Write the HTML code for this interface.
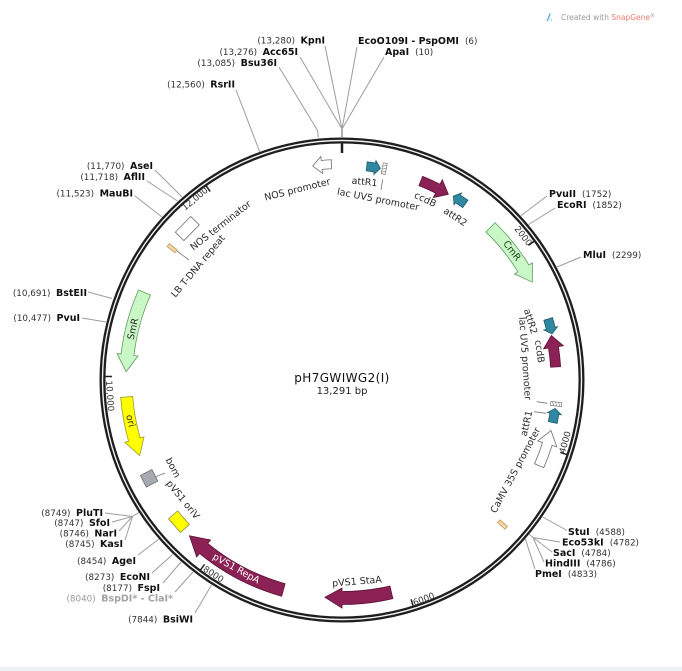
<!DOCTYPE html>
<html><head><meta charset="utf-8"><style>
html,body{margin:0;padding:0;background:#fff;width:682px;height:671px;overflow:hidden}
svg{display:block}
text{font-family:"DejaVu Sans","Liberation Sans",sans-serif}
.n{font-size:8.8px;fill:#333}
.b{font-size:9.5px;font-weight:bold;fill:#111}
.g{font-size:9.5px;font-weight:bold;fill:#a3a3a3}
.gn{font-size:8.8px;fill:#999}
.f{font-size:9.5px;fill:#2a2a2a}
.t{font-size:8.8px;fill:#333}
.sl{stroke:#9c9c9c;stroke-width:1;fill:none}
</style></head><body>
<svg width="682" height="671" viewBox="0 0 682 671" xmlns="http://www.w3.org/2000/svg">
<rect width="682" height="671" fill="#fff"/>
<rect x="0" y="667" width="682" height="4" fill="#eef1f1"/>

<!-- header -->
<path d="M546.5,21 L549.5,13.5 L551,13.5 L548,21 Z" fill="#5fb2e6"/>
<path d="M550,17 L552.5,21 L551,21 Z" fill="#9ed2f2"/>
<text x="561" y="20" font-size="7.5" fill="#9a9a9a">Created with <tspan fill="#ec7b70">SnapGene</tspan><tspan font-size="5" dy="-2.5">®</tspan></text>

<!-- site lines -->
<g class="sl">
<path d="M342,137 L342,129" stroke-width="1.6"/>
<path d="M342,129 L325,46"/>
<path d="M342,129 L300,57"/>
<path d="M342,129 L357,47"/>
<path d="M342,129 L384,57"/>
<path d="M318.3,137.5 L317.6,130.5 L279,67"/>
<path d="M259.8,152 L236,90"/>
<path d="M182,197 L155,170"/>
<path d="M177.5,201 L147,181"/>
<path d="M162,217 L135,196"/>
<path d="M112,298.5 L88,292"/>
<path d="M106,322 L82,318"/>
<path d="M138.9,512.4 L132.5,516.5 L105,513"/>
<path d="M132.5,516.5 L112,522"/>
<path d="M132.5,516.5 L119,531"/>
<path d="M132.5,516.5 L125,540"/>
<path d="M158.6,539.4 L138,555"/>
<path d="M172.7,554.4 L152,573"/>
<path d="M181,562 L163,583"/>
<path d="M193,572 L175,592"/>
<path d="M211.5,585 L195,613"/>
<path d="M521,215.6 L547,196"/>
<path d="M528.7,224.5 L555,208"/>
<path d="M557,267 L581,257"/>
<path d="M542.7,517 L567,530.5"/>
<path d="M529.1,534.2 L533,537.5 L560,542"/>
<path d="M533,537.5 L552,552"/>
<path d="M533,537.5 L544,562"/>
<path d="M525.3,538.8 L535,569"/>
</g>

<!-- ring -->
<circle cx="342" cy="380" r="239.5" fill="none" stroke="#1e1e1e" stroke-width="6"/>
<circle cx="342" cy="380" r="239.5" fill="none" stroke="#f0f0f0" stroke-width="1.4"/>

<!-- ticks -->
<g stroke="#222">
<line x1="342" y1="142" x2="342" y2="153" stroke-width="2.5"/>
<line x1="342" y1="143" x2="342" y2="150" stroke-width="1.5" transform="rotate(54.17 342 380)"/>
<line x1="342" y1="143" x2="342" y2="150" stroke-width="1.5" transform="rotate(108.34 342 380)"/>
<line x1="342" y1="143" x2="342" y2="150" stroke-width="1.5" transform="rotate(162.52 342 380)"/>
<line x1="342" y1="143" x2="342" y2="150" stroke-width="1.5" transform="rotate(216.69 342 380)"/>
<line x1="342" y1="143" x2="342" y2="150" stroke-width="1.5" transform="rotate(270.86 342 380)"/>
<line x1="342" y1="143" x2="342" y2="150" stroke-width="1.5" transform="rotate(325.03 342 380)"/>
</g>
<g class="t" text-anchor="middle" dominant-baseline="central">
<text class="t" x="195.5" y="199.5" text-anchor="middle" dominant-baseline="central" transform="rotate(-40 195.5 199.5)">12,000</text>
<text class="t" x="522.5" y="236.5" text-anchor="middle" dominant-baseline="central" transform="rotate(51.5 522.5 236.5)">2000</text>
<text class="t" x="566" y="442.5" text-anchor="middle" dominant-baseline="central" transform="rotate(-74.4 566 442.5)">4000</text>
<text class="t" x="424" y="600" text-anchor="middle" dominant-baseline="central" transform="rotate(-20.4 424 600)">6000</text>
<text class="t" x="213" y="575" text-anchor="middle" dominant-baseline="central" transform="rotate(33.5 213 575)">8000</text>
<text class="t" x="109" y="396" text-anchor="middle" dominant-baseline="central" transform="rotate(86 109 396)">10,000</text>
</g>

<!-- features -->
<g stroke-width="0.8" stroke-linejoin="miter">
<path transform="rotate(354.6 342 380)" d="M352.00,159.73 A220.5,220.5 0 0 0 342,159.5 L342,155.5 L332.95,164.19 L342,172.5 L342,168.5 A211.5,211.5 0 0 1 351.59,168.72 Z" fill="#fff" stroke="#6e6e6e"/>
<path transform="rotate(8.8 342 380)" d="M333.57,160.66 A219.5,219.5 0 0 1 342,160.5 L342,158 L347.63,165.07 L342,172 L342,169.5 A210.5,210.5 0 0 0 333.92,169.66 Z" fill="#2f889f" stroke="#1b5a6b"/>
<path transform="rotate(26.6 342 380)" d="M322.91,161.83 A219,219 0 0 1 342,161 L342,156 L353.95,166.33 L342,176 L342,171 A209,209 0 0 0 323.78,171.80 Z" fill="#8c2155" stroke="#5d1236"/>
<path transform="rotate(32.6 342 380)" d="M351.19,160.69 A219.5,219.5 0 0 0 342,160.5 L342,158 L336.75,165.06 L342,172 L342,169.5 A210.5,210.5 0 0 1 350.82,169.69 Z" fill="#2f889f" stroke="#1b5a6b"/>
<path transform="rotate(58.4 342 380)" d="M288.15,167.21 A219.5,219.5 0 0 1 342,160.5 L342,156.5 L358.42,166.63 L342,177.5 L342,173.5 A206.5,206.5 0 0 0 291.34,179.81 Z" fill="#c9f8c6" stroke="#5e9a5e"/>
<path transform="rotate(76.1 342 380)" d="M332.04,160.73 A219.5,219.5 0 0 1 342,160.5 L342,158 L347.63,165.07 L342,172 L342,169.5 A210.5,210.5 0 0 0 332.45,169.72 Z" fill="#2f889f" stroke="#1b5a6b"/>
<path transform="rotate(81.2 342 380)" d="M362.23,161.94 A219,219 0 0 0 342,161 L342,156 L330.05,166.33 L342,176 L342,171 A209,209 0 0 1 361.31,171.89 Z" fill="#8c2155" stroke="#5d1236"/>
<path transform="rotate(99 342 380)" d="M351.19,160.69 A219.5,219.5 0 0 0 342,160.5 L342,158 L336.75,165.06 L342,172 L342,169.5 A210.5,210.5 0 0 1 350.82,169.69 Z" fill="#2f889f" stroke="#1b5a6b"/>
<path transform="rotate(107.3 342 380)" d="M365.76,161.29 A220,220 0 0 0 342,160 L342,155 L328.13,165.45 L342,175 L342,170 A210,210 0 0 1 364.68,171.23 Z" fill="#fff" stroke="#6e6e6e"/>
<path transform="rotate(180 342 380)" d="M291.12,161.34 A224.5,224.5 0 0 1 342,155.5 L342,152 L359.10,162.67 L342,172 L342,168.5 A211.5,211.5 0 0 0 294.06,174.00 Z" fill="#8c2155" stroke="#5d1236"/>
<path transform="rotate(219.4 342 380)" d="M251.40,174.59 A224.5,224.5 0 0 1 342,155.5 L342,151 L361.00,162.83 L342,173 L342,168.5 A211.5,211.5 0 0 0 256.65,186.49 Z" fill="#8c2155" stroke="#5d1236"/>
<path transform="rotate(254 342 380)" d="M386.26,162.46 A222,222 0 0 0 342,158 L342,154 L325.05,164.67 L342,174 L342,170 A210,210 0 0 1 383.87,174.22 Z" fill="#ffff00" stroke="#9b9b22"/>
<path transform="rotate(276.7 342 380)" d="M407.80,167.45 A222.5,222.5 0 0 0 342,157.5 L342,153.5 L325.05,164.67 L342,174.5 L342,170.5 A209.5,209.5 0 0 1 403.95,179.87 Z" fill="#c9f8c6" stroke="#5e9a5e"/>
<rect transform="rotate(229 342 380)" x="333" y="158" width="18" height="12" fill="#ffff00" stroke="#8f8f30"/>
<rect transform="rotate(243 342 380)" x="335.5" y="157" width="13" height="13" fill="#a6aab0" stroke="#6e7277"/>
<rect transform="rotate(314.4 342 380)" x="331" y="157.5" width="22" height="12" fill="#fff" stroke="#6e6e6e"/>
<rect transform="rotate(307.8 342 380)" x="340.2" y="160" width="3.6" height="10" fill="#f4d6a8" stroke="#c3955a"/>
<rect transform="rotate(132 342 380)" x="340.2" y="159" width="3.6" height="10" fill="#f4d6a8" stroke="#c3955a"/>
<g transform="rotate(11.3 342 380)"><rect x="340" y="159" width="4" height="11" fill="#fff" stroke="#777" stroke-width="0.7"/><path d="M340,162.5 L344,160.5 M340,165.5 L344,163.5 M340,168.5 L344,166.5" stroke="#777" stroke-width="0.6"/></g>
<g transform="rotate(96.4 342 380)"><rect x="340" y="159" width="4" height="11" fill="#fff" stroke="#777" stroke-width="0.7"/><path d="M340,162.5 L344,160.5 M340,165.5 L344,163.5 M340,168.5 L344,166.5" stroke="#777" stroke-width="0.6"/></g>
</g>

<!-- feature connector lines -->
<g stroke="#777" stroke-width="0.8" fill="none">
<path d="M382.7,179.3 L381,190"/>
<path d="M536.7,401.7 L547.3,403.3"/>
<path d="M534,411.7 L546,413.3"/>
<path d="M155,477 L165,473"/>
<path d="M177,251 L189,260"/>
</g>

<!-- feature labels -->
<text class="f" x="297.5" y="190" text-anchor="middle" dominant-baseline="central" transform="rotate(-14 297.5 190)">NOS promoter</text>
<text class="f" x="364.5" y="182.5" text-anchor="middle" dominant-baseline="central" transform="rotate(6 364.5 182.5)">attR1</text>
<text class="f" x="378" y="200" text-anchor="middle" dominant-baseline="central" transform="rotate(11 378 200)">lac UV5 promoter</text>
<text class="f" x="425" y="200" text-anchor="middle" dominant-baseline="central" transform="rotate(25 425 200)">ccdB</text>
<text class="f" x="455" y="217.5" text-anchor="middle" dominant-baseline="central" transform="rotate(33 455 217.5)">attR2</text>
<text class="f" x="511.5" y="251" text-anchor="middle" dominant-baseline="central" transform="rotate(52.7 511.5 251)" style="fill:#1d3d1d">CmR</text>
<text class="f" x="530" y="321.5" text-anchor="middle" dominant-baseline="central" transform="rotate(73 530 321.5)">attR2</text>
<text class="f" x="539" y="351.5" text-anchor="middle" dominant-baseline="central" transform="rotate(82 539 351.5)">ccdB</text>
<text class="f" x="524.5" y="358.5" text-anchor="middle" dominant-baseline="central" transform="rotate(86 524.5 358.5)">lac UV5 promoter</text>
<text class="f" x="527" y="423.5" text-anchor="middle" dominant-baseline="central" transform="rotate(-77 527 423.5)">attR1</text>
<text class="f" x="516" y="470.5" text-anchor="middle" dominant-baseline="central" transform="rotate(-62 516 470.5)">CaMV 35S promoter</text>
<text class="f" x="357" y="582" text-anchor="middle" dominant-baseline="central" transform="rotate(-4.5 357 582)">pVS1 StaA</text>
<text class="f" x="236" y="569" text-anchor="middle" dominant-baseline="central" transform="rotate(29 236 569)" style="fill:#fff">pVS1 RepA</text>
<text class="f" x="182.5" y="500" text-anchor="middle" dominant-baseline="central" transform="rotate(51 182.5 500)">pVS1 oriV</text>
<text class="f" x="172.5" y="468" text-anchor="middle" dominant-baseline="central" transform="rotate(62.6 172.5 468)">bom</text>
<text class="f" x="130" y="421" text-anchor="middle" dominant-baseline="central" transform="rotate(77 130 421)">ori</text>
<text class="f" x="133.5" y="329" text-anchor="middle" dominant-baseline="central" transform="rotate(-77 133.5 329)">SmR</text>
<text class="f" x="221" y="226" text-anchor="middle" dominant-baseline="central" transform="rotate(-38 221 226)">NOS terminator</text>
<text class="f" x="198.5" y="266.5" text-anchor="middle" dominant-baseline="central" transform="rotate(-50 198.5 266.5)">LB T-DNA repeat</text>

<!-- center -->
<text x="342" y="382" text-anchor="middle" font-size="12" letter-spacing="0.4" fill="#111">pH7GWIWG2(I)</text>
<text x="342" y="394" text-anchor="middle" font-size="10" fill="#222">13,291 bp</text>

<!-- site labels: left side (anchored at name end) -->
<text x="325" y="43.5" text-anchor="end"><tspan class="n">(13,280)</tspan><tspan class="b" dx="5.5">KpnI</tspan></text>
<text x="298" y="55" text-anchor="end"><tspan class="n">(13,276)</tspan><tspan class="b" dx="5.5">Acc65I</tspan></text>
<text x="277" y="66" text-anchor="end"><tspan class="n">(13,085)</tspan><tspan class="b" dx="5.5">Bsu36I</tspan></text>
<text x="235" y="87.5" text-anchor="end"><tspan class="n">(12,560)</tspan><tspan class="b" dx="5.5">RsrII</tspan></text>
<text x="153" y="169" text-anchor="end"><tspan class="n">(11,770)</tspan><tspan class="b" dx="5.5">AseI</tspan></text>
<text x="145" y="180" text-anchor="end"><tspan class="n">(11,718)</tspan><tspan class="b" dx="5.5">AflII</tspan></text>
<text x="133" y="196.5" text-anchor="end"><tspan class="n">(11,523)</tspan><tspan class="b" dx="5.5">MauBI</tspan></text>
<text x="87" y="296" text-anchor="end"><tspan class="n">(10,691)</tspan><tspan class="b" dx="5.5">BstEII</tspan></text>
<text x="80" y="321" text-anchor="end"><tspan class="n">(10,477)</tspan><tspan class="b" dx="5.5">PvuI</tspan></text>
<text x="103" y="516" text-anchor="end"><tspan class="n">(8749)</tspan><tspan class="b" dx="5.5">PluTI</tspan></text>
<text x="110" y="526" text-anchor="end"><tspan class="n">(8747)</tspan><tspan class="b" dx="5.5">SfoI</tspan></text>
<text x="117" y="536.5" text-anchor="end"><tspan class="n">(8746)</tspan><tspan class="b" dx="5.5">NarI</tspan></text>
<text x="123" y="547" text-anchor="end"><tspan class="n">(8745)</tspan><tspan class="b" dx="5.5">KasI</tspan></text>
<text x="136" y="564" text-anchor="end"><tspan class="n">(8454)</tspan><tspan class="b" dx="5.5">AgeI</tspan></text>
<text x="150" y="580" text-anchor="end"><tspan class="n">(8273)</tspan><tspan class="b" dx="5.5">EcoNI</tspan></text>
<text x="160" y="591" text-anchor="end"><tspan class="n">(8177)</tspan><tspan class="b" dx="5.5">FspI</tspan></text>
<text x="173" y="601.5" text-anchor="end"><tspan class="gn">(8040)</tspan><tspan class="g" dx="5.5">BspDI* - ClaI*</tspan></text>
<text x="193" y="622.5" text-anchor="end"><tspan class="n">(7844)</tspan><tspan class="b" dx="5.5">BsiWI</tspan></text>

<!-- site labels: right side -->
<text x="358" y="44"><tspan class="b">EcoO109I - PspOMI</tspan><tspan class="n" dx="6">(6)</tspan></text>
<text x="385" y="55"><tspan class="b">ApaI</tspan><tspan class="n" dx="6">(10)</tspan></text>
<text x="549" y="197"><tspan class="b">PvuII</tspan><tspan class="n" dx="6">(1752)</tspan></text>
<text x="557" y="208"><tspan class="b">EcoRI</tspan><tspan class="n" dx="6">(1852)</tspan></text>
<text x="583" y="258"><tspan class="b">MluI</tspan><tspan class="n" dx="6">(2299)</tspan></text>
<text x="568" y="535"><tspan class="b">StuI</tspan><tspan class="n" dx="6">(4588)</tspan></text>
<text x="562" y="545.5"><tspan class="b">Eco53kI</tspan><tspan class="n" dx="6">(4782)</tspan></text>
<text x="553" y="556"><tspan class="b">SacI</tspan><tspan class="n" dx="6">(4784)</tspan></text>
<text x="545" y="566.5"><tspan class="b">HindIII</tspan><tspan class="n" dx="6">(4786)</tspan></text>
<text x="535" y="577"><tspan class="b">PmeI</tspan><tspan class="n" dx="6">(4833)</tspan></text>
</svg>
</body></html>
